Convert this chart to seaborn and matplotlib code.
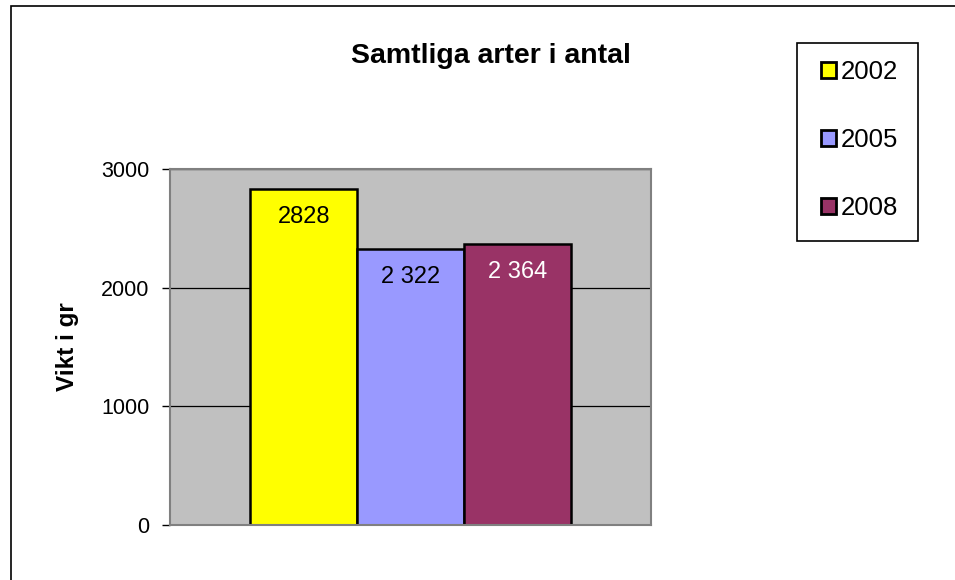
import pandas as pd
import matplotlib.pyplot as plt
import seaborn as sns
from matplotlib.patches import Rectangle

# Data
years = ["2002", "2005", "2008"]
values = [2828, 2322, 2364]
value_labels = ["2828", "2 322", "2 364"]
label_colors = ["black", "black", "white"]
colors = ["#FFFF00", "#9999FF", "#993366"]
y_ticks = [0, 1000, 2000, 3000]

df = pd.DataFrame({"grupp": ["Samtliga"] * len(years), "år": years, "antal": values})

sns.set_style("white")
plt.rcParams["font.family"] = ["Liberation Sans", "DejaVu Sans"]
for key in ["text.color", "axes.labelcolor", "xtick.color", "ytick.color"]:
    plt.rcParams[key] = "black"

fig = plt.figure(figsize=(9.55, 5.8), dpi=100)
ax = fig.add_axes([170 / 955, 55 / 580, 481 / 955, 356 / 580])

sns.barplot(data=df, x="grupp", y="antal", hue="år", palette=colors, saturation=1,
            width=0.8, edgecolor="black", linewidth=1.8, ax=ax, legend=True)

ax.set_facecolor("#C0C0C0")
ax.set_xlim(-0.601, 0.601)
ax.set_ylim(0, 3000)
ax.set_yticks(y_ticks)
ax.set_yticklabels([str(t) for t in y_ticks], fontsize=15.5)
ax.set_xticks([])
ax.set_xlabel("")
ax.set_ylabel("Vikt i gr", fontsize=17.5, fontweight="bold")
ax.yaxis.label.set_va("center")
ax.yaxis.set_label_coords((68 - 170) / 481, 0.5)
ax.yaxis.grid(True, color="black", linewidth=0.9)
ax.set_axisbelow(True)
ax.tick_params(axis="y", direction="out", length=6, width=1, color="black", pad=9, left=True)
for side in ax.spines.values():
    side.set_color("#808080")
    side.set_linewidth(1.5)

for cont, lab, col in zip(ax.containers, value_labels, label_colors):
    ax.bar_label(cont, labels=[lab], label_type="edge", padding=-28,
                 fontsize=17, color=col)

handles, labels = ax.get_legend_handles_labels()
ax.get_legend().remove()
for h in handles:
    h.set_linewidth(2)
leg = fig.legend(handles, labels, loc="center left",
                 bbox_to_anchor=(821 / 955, 1 - 140 / 580),
                 fontsize=18.5, frameon=False, handlelength=0.58, handleheight=0.58,
                 handletextpad=0.18, labelspacing=1.72, borderpad=0, borderaxespad=0)

# legend box drawn separately so the padding matches the reference
fig.patches.append(Rectangle((797 / 955, 1 - 241 / 580), 121 / 955, 198 / 580,
                             transform=fig.transFigure, fill=False,
                             edgecolor="black", linewidth=1.2))

fig.text(491 / 955, 1 - 63 / 580, "Samtliga arter i antal", ha="center", va="baseline",
         fontsize=20.5, fontweight="bold")

# outer chart border (extends off canvas on right/bottom like the reference)
fig.patches.append(Rectangle((11 / 955, -0.05), 1.2, 1 - 6 / 580 + 0.05,
                             transform=fig.transFigure, fill=False,
                             edgecolor="black", linewidth=1.2))

fig.savefig("out.png", dpi=100)
